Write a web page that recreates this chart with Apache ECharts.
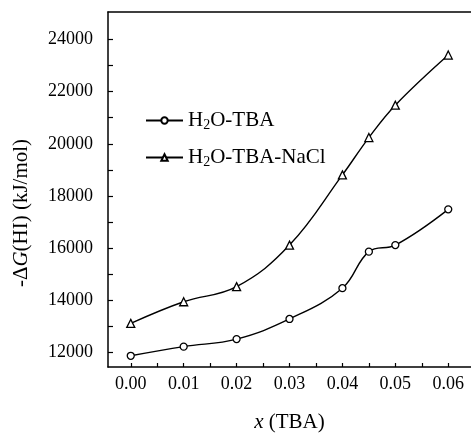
<!DOCTYPE html>
<html>
<head>
<meta charset="utf-8">
<script src="https://cdn.jsdelivr.net/npm/echarts@6/dist/echarts.min.js"></script>
<style>
html, body { margin: 0; padding: 0; background: #fff; }
#chart { width: 471px; height: 438px; }
</style>
</head>
<body>
<div id="chart"></div>
<script>
// x (TBA) values and -dG(HI) for the two systems
var xTBA = [0.00, 0.01, 0.02, 0.03, 0.04, 0.045, 0.05, 0.06];
var waterTBA = [11880, 12230, 12520, 13290, 14470, 15870, 16120, 17490];
var waterTBANaCl = [13120, 13950, 14530, 16120, 18810, 20240, 21480, 23400];

var xLabels = [0.00, 0.01, 0.02, 0.03, 0.04, 0.05, 0.06];
var xTicks = [0.00, 0.005, 0.01, 0.015, 0.02, 0.025, 0.03, 0.035, 0.04, 0.045, 0.05, 0.055, 0.06];
var yLabels = [12000, 14000, 16000, 18000, 20000, 22000, 24000];
var yTicks = [12000, 13000, 14000, 15000, 16000, 17000, 18000, 19000, 20000, 21000, 22000, 23000, 24000];

var font = 'Liberation Serif';

function pairs(xs, ys) {
    var out = [];
    for (var i = 0; i < xs.length; i++) {
        out.push([xs[i], ys[i]]);
    }
    return out;
}

var myChart = echarts.init(document.getElementById('chart'));

var option = {
    animation: false,
    backgroundColor: '#fff',
    textStyle: { fontFamily: font, color: '#000' },
    grid: { left: 108, top: 12, right: 0, bottom: 71 },
    legend: {
        orient: 'vertical',
        left: 140,
        top: 105,
        itemWidth: 37,
        itemHeight: 8,
        itemGap: 15,
        data: ['H2O-TBA', 'H2O-TBA-NaCl'],
        formatter: function (name) {
            return name.replace('H2O', 'H{sub|2}O');
        },
        textStyle: {
            fontFamily: font,
            fontSize: 21,
            color: '#000',
            rich: {
                sub: { fontFamily: font, fontSize: 14, verticalAlign: 'bottom', padding: [9, 0, 0, 0] }
            }
        }
    },
    graphic: [{
        type: 'text',
        x: 21,
        y: 213,
        rotation: Math.PI / 2,
        style: {
            text: '-Δ{i|G}(HI) (kJ/mol)',
            fontFamily: font,
            fontSize: 21,
            fill: '#000',
            align: 'center',
            verticalAlign: 'middle',
            rich: {
                i: { fontFamily: font, fontSize: 21, fontStyle: 'italic' }
            }
        }
    }],
    xAxis: [{
        type: 'value',
        min: -0.0043,
        max: 0.0643,
        name: '{i|x} (TBA)',
        nameLocation: 'middle',
        nameGap: 45,
        nameTextStyle: {
            fontFamily: font,
            fontSize: 21,
            color: '#000',
            rich: { i: { fontFamily: font, fontSize: 21, fontStyle: 'italic' } }
        },
        axisLine: { show: true, onZero: false, lineStyle: { color: '#000', width: 1.5 } },
        axisTick: { show: true, inside: true, length: 4, customValues: xTicks, lineStyle: { color: '#000', width: 1.2 } },
        axisLabel: {
            customValues: xLabels,
            margin: 8,
            fontFamily: font,
            fontSize: 18,
            color: '#000',
            formatter: function (v) { return v.toFixed(2); }
        },
        splitLine: { show: false }
    }, {
        type: 'value',
        position: 'top',
        min: -0.0043,
        max: 0.0643,
        axisLine: { show: true, onZero: false, lineStyle: { color: '#000', width: 1.5 } },
        axisTick: { show: false },
        axisLabel: { show: false },
        splitLine: { show: false }
    }],
    yAxis: {
        type: 'value',
        min: 11450,
        max: 25050,
        axisLine: { show: true, onZero: false, lineStyle: { color: '#000', width: 1.5 } },
        axisTick: { show: true, inside: true, length: 5, customValues: yTicks, lineStyle: { color: '#000', width: 1.2 } },
        axisLabel: {
            customValues: yLabels,
            margin: 15,
            fontFamily: font,
            fontSize: 18,
            color: '#000',
            formatter: function (v) { return String(v); }
        },
        splitLine: { show: false }
    },
    series: [
        {
            name: 'H2O-TBA',
            type: 'line',
            smooth: 0.4,
            data: pairs(xTBA, waterTBA),
            symbol: 'circle',
            symbolSize: 7,
            itemStyle: { color: '#fff', borderColor: '#000', borderWidth: 1.3 },
            lineStyle: { color: '#000', width: 1.4 }
        },
        {
            name: 'H2O-TBA-NaCl',
            type: 'line',
            smooth: 0.4,
            data: pairs(xTBA, waterTBANaCl),
            symbol: 'triangle',
            symbolSize: 8,
            itemStyle: { color: '#fff', borderColor: '#000', borderWidth: 1.3 },
            lineStyle: { color: '#000', width: 1.4 }
        }
    ]
};

option && myChart.setOption(option);
</script>
</body>
</html>
